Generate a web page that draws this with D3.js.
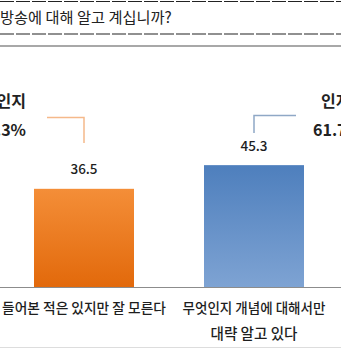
<!DOCTYPE html>
<html><head><meta charset="utf-8">
<script src="https://cdn.jsdelivr.net/npm/d3@7"></script>
<style>html,body{margin:0;padding:0;background:#fff;overflow:hidden}svg{display:block}</style>
</head><body>
<script>
const title = "방송에 대해 알고 계십니까?";
const categories = [["들어본 적은 있지만 잘 모른다"], ["무엇인지 개념에 대해서만", "대략 알고 있다"]];
const values = [36.5, 45.3];
const groupLabels = ["인지", "인지"];
const groupPcts = ["38.3%", "61.7%"];

const W = 341, H = 349;
const svg = d3.select("body").append("svg").attr("width", W).attr("height", H);
const font = "'Noto Sans CJK KR', 'Noto Sans', sans-serif";

const defs = svg.append("defs");
const gradO = defs.append("linearGradient").attr("id", "gO").attr("x1", 0).attr("y1", 0).attr("x2", 0).attr("y2", 1);
gradO.append("stop").attr("offset", "0%").attr("stop-color", "#F48E38");
gradO.append("stop").attr("offset", "100%").attr("stop-color", "#E2690B");
const gradB = defs.append("linearGradient").attr("id", "gB").attr("x1", 0).attr("y1", 0).attr("x2", 0).attr("y2", 1);
gradB.append("stop").attr("offset", "0%").attr("stop-color", "#4E7FBD");
gradB.append("stop").attr("offset", "100%").attr("stop-color", "#7EA3D3");
const fills = ["url(#gO)", "url(#gB)"];
const bracketColors = ["#F5B98A", "#8FA8C6"];

function fitText(sel, w) {
  const len = sel.node().getComputedTextLength();
  if (len > 0) {
    const fs = parseFloat(sel.attr("font-size"));
    sel.attr("font-size", fs * w / len);
  }
  return sel;
}

// header lines
svg.append("line").attr("x1", 0).attr("x2", W).attr("y1", 1.5).attr("y2", 1.5)
  .attr("stroke", "#222").attr("stroke-width", 1.2).attr("stroke-dasharray", "14,2");
const t = svg.append("text").attr("x", 0).attr("y", 23).attr("font-family", font).attr("font-size", 15)
  .attr("fill", "#222").text(title);
fitText(t, 172);
svg.append("line").attr("x1", 0).attr("x2", W).attr("y1", 34).attr("y2", 34)
  .attr("stroke", "#222").attr("stroke-width", 1.2).attr("stroke-dasharray", "14,2");
svg.append("line").attr("x1", 0).attr("x2", W).attr("y1", 46).attr("y2", 46)
  .attr("stroke", "#A8A8A8").attr("stroke-width", 2);

// scales
const x = d3.scaleBand().domain(d3.range(values.length)).range([0, 338]).paddingInner(70 / 170).paddingOuter(0.2);
const y = d3.scaleLinear().domain([0, 50]).range([287, 152.5]);
const cx = i => x(i) + x.bandwidth() / 2;

// bars
svg.selectAll("rect.bar").data(values).enter().append("rect")
  .attr("x", (d, i) => x(i)).attr("width", x.bandwidth())
  .attr("y", d => y(d)).attr("height", d => y(0) - y(d))
  .attr("fill", (d, i) => fills[i]);

// axis line
svg.append("line").attr("x1", 0).attr("x2", W).attr("y1", y(0) + 0.5).attr("y2", y(0) + 0.5)
  .attr("stroke", "#8C8C8C").attr("stroke-width", 1);

// value labels
svg.selectAll("text.val").data(values).enter().append("text")
  .attr("x", (d, i) => cx(i)).attr("y", d => y(d) - 14.5)
  .attr("text-anchor", "middle").attr("font-family", font).attr("font-size", 13.5)
  .attr("font-weight", 500).attr("fill", "#1E1E1E").text(d => d);

// category labels
const catWidths = [[164], [143, 87]];
categories.forEach((lines, i) => {
  lines.forEach((s, j) => {
    const el = svg.append("text").attr("x", cx(i)).attr("y", 313 + j * 25.5)
      .attr("text-anchor", "middle").attr("font-family", font).attr("font-size", 13)
      .attr("font-weight", 500).attr("fill", "#1E1E1E").text(s);
    fitText(el, catWidths[i][j]);
  });
});

// brackets
svg.append("path").attr("d", `M47,117.5H${cx(0)}V143`).attr("fill", "none")
  .attr("stroke", bracketColors[0]).attr("stroke-width", 1.5);
svg.append("path").attr("d", `M${cx(1)},133V115.5H296`).attr("fill", "none")
  .attr("stroke", bracketColors[1]).attr("stroke-width", 1.5);

// group labels
svg.append("text").attr("x", 26).attr("y", 107).attr("text-anchor", "end").attr("font-family", font)
  .attr("font-size", 16).attr("font-weight", 700).attr("fill", "#222").text(groupLabels[0]);
svg.append("text").attr("x", 26).attr("y", 136).attr("text-anchor", "end").attr("font-family", font)
  .attr("font-size", 16).attr("font-weight", 700).attr("fill", "#222").text(groupPcts[0]);
svg.append("text").attr("x", 321).attr("y", 107).attr("font-family", font)
  .attr("font-size", 16).attr("font-weight", 700).attr("fill", "#222").text(groupLabels[1]);
svg.append("text").attr("x", 313).attr("y", 136).attr("font-family", font)
  .attr("font-size", 16).attr("font-weight", 700).attr("fill", "#222").text(groupPcts[1]);

// bottom line
svg.append("line").attr("x1", 0).attr("x2", W).attr("y1", 347.5).attr("y2", 347.5)
  .attr("stroke", "#DDDDDD").attr("stroke-width", 1);
</script>
</body></html>
